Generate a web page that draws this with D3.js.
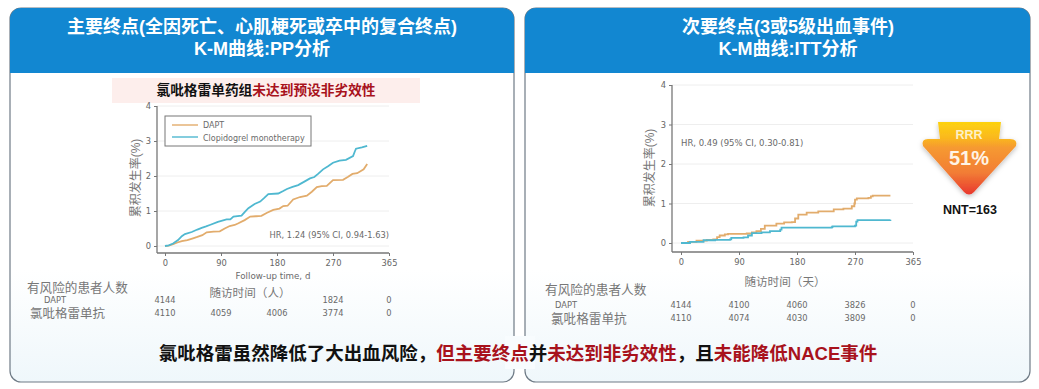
<!DOCTYPE html>
<html><head><meta charset="utf-8">
<script src="https://cdn.jsdelivr.net/npm/d3@7"></script>
<style>html,body{margin:0;padding:0;background:#fff}svg{display:block}
text{font-family:"Liberation Sans","Noto Sans CJK SC",sans-serif}
.lat{font-family:"DejaVu Sans",sans-serif;fill:#6a6a6a}
.tick text{font-family:"DejaVu Sans",sans-serif;fill:#666;font-size:8.3px}
</style></head><body><svg id="c" width="1039" height="389"></svg>
<script>
const xTicks=[0,90,180,270,365], yTicks=[0,1,2,3,4];
const leftDapt=[[0,0],[6,.01],[13,.05],[20,.1],[27,.14],[36,.17],[45,.22],[52,.26],[60,.31],[67,.39],[78,.41],[88,.42],[96,.5],[104,.57],[112,.6],[118,.65],[128,.74],[137,.84],[146,.85],[155,.86],[164,.95],[174,1.03],[184,1.07],[190,1.14],[197,1.15],[206,1.33],[217,1.4],[228,1.44],[236,1.55],[244,1.68],[252,1.71],[260,1.72],[270,1.88],[287,1.89],[295,1.97],[303,2.06],[311,2.08],[318,2.15],[322,2.19],[328,2.34]];
const leftClop=[[0,0],[6,.02],[13,.07],[21,.17],[27,.28],[32,.34],[43,.4],[52,.47],[59,.52],[66,.56],[72,.6],[85,.69],[99,.76],[105,.76],[110,.84],[123,.87],[128,.97],[134,1.08],[144,1.2],[153,1.27],[160,1.38],[166,1.48],[182,1.5],[190,1.57],[196,1.63],[205,1.69],[214,1.74],[224,1.84],[233,1.93],[240,1.97],[246,2.06],[254,2.19],[262,2.28],[270,2.38],[281,2.44],[292,2.46],[304,2.57],[307,2.7],[309,2.78],[319,2.82],[328,2.86]];
const rightDapt=[[0,0],[11,.03],[24,.06],[40,.08],[50,.09],[56,.15],[60,.19],[68,.22],[73,.23],[102,.24],[110,.27],[117,.3],[124,.36],[130,.44],[148,.49],[160,.52],[172,.53],[177,.62],[182,.72],[195,.77],[213,.8],[237,.85],[252,.87],[265,.93],[269,1.0],[270,1.1],[273,1.13],[292,1.14],[296,1.18],[299,1.2],[328,1.2]];
const rightClop=[[0,0],[14,.03],[35,.07],[53,.08],[76,.09],[78,.13],[97,.14],[104,.19],[110,.25],[125,.27],[138,.3],[154,.34],[156,.39],[234,.4],[235,.42],[270,.44],[272,.54],[274,.58],[328,.59]];
const leftRisk1=["4144",null,null,"1824","0"], leftRisk2=["4110","4059","4006","3774","0"];
const rightRisk1=["4144","4100","4060","3826","0"], rightRisk2=["4110","4074","4030","3809","0"];
const cO="#e2ac6c", cB="#4fb8d0";

const svg=d3.select("#c"), defs=svg.append("defs");
const pg=defs.append("linearGradient").attr("id","pg").attr("x1",0).attr("x2",0).attr("y1",0).attr("y2",1);
pg.append("stop").attr("offset","70%").attr("stop-color","#fff");
pg.append("stop").attr("offset","100%").attr("stop-color","#eff7fb");
const ag=defs.append("linearGradient").attr("id","ag").attr("x1",0).attr("x2",0).attr("y1",0).attr("y2",1);
[[0,"#fdd20f"],[.22,"#fab81e"],[.35,"#f69a30"],[.7,"#f27d35"],[1,"#e8372e"]].forEach(s=>ag.append("stop").attr("offset",s[0]).attr("stop-color",s[1]));
const fl=defs.append("filter").attr("id","sh").attr("x","-20%").attr("y","-20%").attr("width","140%").attr("height","150%");
fl.append("feDropShadow").attr("dx",0).attr("dy",2).attr("stdDeviation",2.5).attr("flood-color","#000").attr("flood-opacity",.25);

function panel(x,w,cx,title1,title2){
  svg.append("rect").attr("x",x).attr("y",8).attr("width",w).attr("height",374).attr("rx",11)
    .attr("fill","url(#pg)").attr("stroke","#6f7b86").attr("stroke-width",1.2);
  svg.append("path").attr("d",`M${x} 73V19a11 11 0 0 1 11-11H${x+w-11}a11 11 0 0 1 11 11V73Z`).attr("fill","#1287d1");
  [[title1,33],[title2,55]].forEach(t=>svg.append("text").attr("x",cx).attr("y",t[1]).attr("text-anchor","middle")
    .attr("fill","#fff").attr("font-weight",700).attr("font-size",18).text(t[0]));
}
panel(10,504,262,"主要终点(全因死亡、心肌梗死或卒中的复合终点)","K-M曲线:PP分析");
panel(525,505,788,"次要终点(3或5级出血事件)","K-M曲线:ITT分析");

function chart(o){
  const x=d3.scaleLinear().domain(xTicks).range(o.xr);
  const y=d3.scaleLinear().domain([0,4]).range(o.yr);
  const g=svg.append("g");
  g.append("g").selectAll("line").data(yTicks).join("line")
    .attr("x1",o.ax).attr("x2",o.xr[4]).attr("y1",d=>y(d)).attr("y2",d=>y(d)).attr("stroke","#eee").attr("stroke-width",1);
  const ya=g.append("g").attr("transform",`translate(${o.ax},0)`).call(d3.axisLeft(y).tickValues(yTicks).tickFormat(d3.format("d")).tickSize(3).tickSizeOuter(0));
  const xa=g.append("g").attr("transform",`translate(0,${o.base})`).call(d3.axisBottom(x).tickValues(xTicks).tickFormat(d3.format("d")).tickSize(3).tickSizeOuter(0));
  ya.select(".domain").attr("d",`M0 ${y(4)}V${o.base}`).attr("stroke","#777").attr("stroke-width",1.3);
  xa.select(".domain").attr("d",`M${o.ax} 0H${o.xr[4]}`).attr("stroke","#777").attr("stroke-width",1.3);
  g.selectAll(".tick line").attr("stroke","#777");
  xa.selectAll("text").attr("dy","0.9em");
  const ln=d3.line().x(d=>x(d[0])).y(d=>y(d[1])).curve(o.curve);
  [[o.a,cO],[o.b,cB]].forEach(s=>g.append("path").datum(s[0]).attr("d",ln).attr("fill","none").attr("stroke",s[1]).attr("stroke-width",1.8));
  o.r.forEach((row,i)=>g.append("g").selectAll("text").data(row).join("text").attr("class","lat")
    .attr("x",(d,j)=>x(xTicks[j])).attr("y",o.ry[i]).attr("text-anchor","middle").attr("font-size",8.3).text(d=>d));
  g.append("text").attr("transform",`translate(${o.yl[0]},${o.yl[1]}) rotate(-90)`).attr("text-anchor","middle")
    .attr("fill","#777").attr("font-size",12).text("累积发生率(%)");
}
chart({xr:[165,221,277,333,389],yr:[246,106],ax:157,base:253,a:leftDapt,b:leftClop,curve:d3.curveLinear,r:[leftRisk1,leftRisk2],ry:[303,316],yl:[140,178]});
chart({xr:[681,739,797,855,913],yr:[243,85],ax:672,base:252,a:rightDapt,b:rightClop,curve:d3.curveStepAfter,r:[rightRisk1,rightRisk2],ry:[308,321],yl:[654,168]});

function txt(x,y,s,size,opt={}){
  return svg.append("text").attr("x",x).attr("y",y).attr("font-size",size).attr("text-anchor",opt.a||"start")
    .attr("fill",opt.f||"#777").attr("font-weight",opt.w||400).attr("class",opt.c||null).text(s);
}
svg.insert("rect","text").attr("x",112).attr("y",78).attr("width",308).attr("height",25).attr("fill","#fdeeec");
const sub=txt(266,95,"",13.7,{a:"middle",w:700});
sub.append("tspan").attr("fill","#111").text("氯吡格雷单药组");
sub.append("tspan").attr("fill","#a8121c").text("未达到预设非劣效性");
svg.append("rect").attr("x",165).attr("y",116).attr("width",146).attr("height",30).attr("fill","#fff").attr("stroke","#777").attr("stroke-width",1);
svg.append("line").attr("x1",172).attr("x2",198).attr("y1",125).attr("y2",125).attr("stroke",cO).attr("stroke-width",1.4);
svg.append("line").attr("x1",172).attr("x2",198).attr("y1",137).attr("y2",137).attr("stroke",cB).attr("stroke-width",1.4);
txt(203,128,"DAPT",8,{c:"lat"});
txt(203,140.5,"Clopidogrel monotherapy",8,{c:"lat"});
txt(389,238,"HR, 1.24 (95% CI, 0.94-1.63)",8.3,{a:"end",c:"lat"});
txt(273,279,"Follow-up time, d",8.7,{a:"middle",c:"lat"});
txt(250,297,"随访时间（人）",11.6,{a:"middle"});
txt(27,292,"有风险的患者人数",12.6);
txt(55,303,"DAPT",8.3,{a:"middle",c:"lat"});
txt(30,318,"氯吡格雷单抗",12.5);
txt(681,146,"HR, 0.49 (95% CI, 0.30-0.81)",8.5,{c:"lat"});
txt(785,286,"随访时间（天）",11.6,{a:"middle"});
txt(545,294,"有风险的患者人数",12.7);
txt(566,308,"DAPT",8.3,{a:"middle",c:"lat"});
txt(551,323,"氯吡格雷单抗",12.6);
svg.append("path").attr("d","M938 122H1001L999 139H1010Q1018 139 1016 146L974 192Q969 197 964 192L923 146Q921 139 928 139H940Z")
  .attr("fill","url(#ag)").attr("filter","url(#sh)");
txt(969,138.5,"RRR",12.5,{a:"middle",f:"#fdf0c8",w:700});
txt(969,165,"51%",20,{a:"middle",f:"#fff4e6",w:700});
txt(970,214,"NNT=163",12.5,{a:"middle",f:"#111",w:700});
svg.append("rect").attr("x",505).attr("y",336).attr("width",30).attr("height",33).attr("fill","#f8fcfe");
const msg=txt(518,360,"",18.5,{a:"middle",w:700});
[["氯吡格雷虽然降低了大出血风险，","#111"],["但主要终点","#a8121c"],["并","#111"],["未达到非劣效性","#a8121c"],["，且","#111"],["未能降低NACE事件","#a8121c"]]
  .forEach(t=>msg.append("tspan").attr("fill",t[1]).text(t[0]));
</script></body></html>
